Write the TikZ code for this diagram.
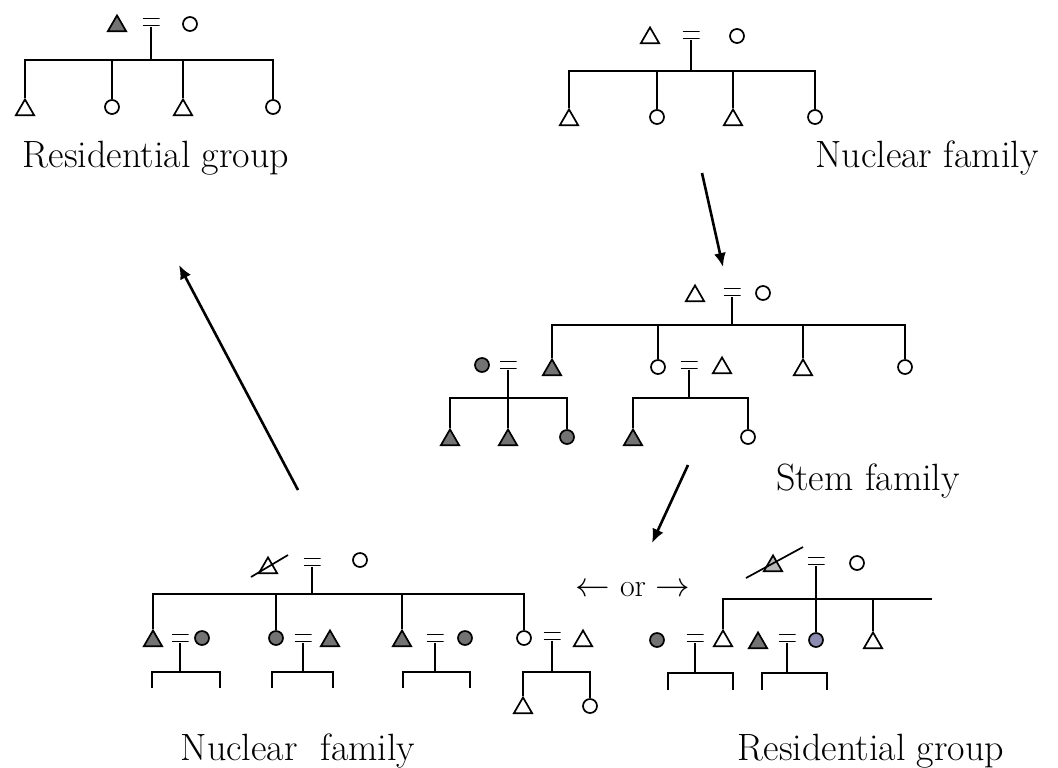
\documentclass[tikz,border=0pt]{standalone}
\usepackage{tikz}
\usetikzlibrary{arrows.meta,shapes.geometric}
\definecolor{shade}{gray}{0.45}
\definecolor{paleshade}{gray}{0.72}
\definecolor{blueshade}{RGB}{140,140,178}
\tikzset{
  male/.style={draw, regular polygon, regular polygon sides=3, minimum size=10.6pt, inner sep=0pt, line width=0.85pt},
  female/.style={draw, circle, minimum size=7pt, inner sep=0pt, line width=0.85pt},
  dark/.style={fill=shade},
  wed/.style={minimum width=8.5pt, minimum height=4.4pt, inner sep=0pt,
    path picture={\draw[line width=0.85pt] ([yshift=-0.5pt]path picture bounding box.north west) -- ([yshift=-0.5pt]path picture bounding box.north east)
      ([yshift=0.5pt]path picture bounding box.south west) -- ([yshift=0.5pt]path picture bounding box.south east);}},
  kin/.style={line width=1.1pt},
  caption/.style={font=\fontsize{19}{22}\selectfont, anchor=base},
  trend/.style={line width=1.3pt, -{Latex[length=7pt,width=6pt]}}
}

\begin{document}
\begin{tikzpicture}[x=0.5pt, y=-0.5pt]
  \useasboundingbox (0,0) rectangle (1058,767);

  \node[male, dark] (rgh) at (117,26) {};
  \node[wed] (rgm) at (151,22) {};
  \node[female] (rgw) at (190,24) {};
  \coordinate (rgk) at (151,60);
  \node[male] (rgc1) at (25,110) {};
  \node[female] (rgc2) at (112,107) {};
  \node[male] (rgc3) at (183,110) {};
  \node[female] (rgc4) at (273,107) {};
  \draw[kin] (rgm.south) -- (rgk);
  \draw[kin] (rgc1.north) |- (rgk) -| (rgc4.north);
  \draw[kin] (rgc2.north) -- (rgc2.north |- rgk);
  \draw[kin] (rgc3.north) -- (rgc3.north |- rgk);
  \node[caption] (rglab) at (156,167) {Residential group};

  \node[male] (nfh) at (650,38) {};
  \node[wed] (nfm) at (691,35) {};
  \node[female] (nfw) at (737,36) {};
  \coordinate (nfk) at (691,71);
  \node[male] (nfc1) at (569,120) {};
  \node[female] (nfc2) at (657,117) {};
  \node[male] (nfc3) at (733,120) {};
  \node[female] (nfc4) at (815,117) {};
  \draw[kin] (nfm.south) -- (nfk);
  \draw[kin] (nfc1.north) |- (nfk) -| (nfc4.north);
  \draw[kin] (nfc2.north) -- (nfc2.north |- nfk);
  \draw[kin] (nfc3.north) -- (nfc3.north |- nfk);
  \node[caption] (nflab) at (927,167) {Nuclear family};

  \coordinate (nfa) at (702,173);
  \coordinate (sfa) at (723,267);
  \draw[trend] (nfa) -- (sfa);

  \node[male] (sfh) at (695,296) {};
  \node[wed] (sfm) at (732,292) {};
  \node[female] (sfw) at (763,293) {};
  \coordinate (sfk) at (732,325);
  \node[male, dark] (sfc1) at (552,370) {};
  \node[female] (sfc2) at (658,367) {};
  \node[male] (sfc3) at (803,370) {};
  \node[female] (sfc4) at (905,367) {};
  \draw[kin] (sfm.south) -- (sfk);
  \draw[kin] (sfc1.north) |- (sfk) -| (sfc4.north);
  \draw[kin] (sfc2.north) -- (sfc2.north |- sfk);
  \draw[kin] (sfc3.north) -- (sfc3.north |- sfk);

  \node[female, dark] (sfaw) at (482,365) {};
  \node[wed] (sfam) at (508,365) {};
  \coordinate (sfak) at (508,398);
  \node[male, dark] (sfa1) at (450,440) {};
  \node[male, dark] (sfa2) at (508,440) {};
  \node[female, dark] (sfa3) at (567,437) {};
  \draw[kin] (sfam.south) -- (sfa2.north);
  \draw[kin] (sfa1.north) |- (sfak) -| (sfa3.north);

  \node[wed] (sfbm) at (689,365) {};
  \node[male] (sfbh) at (722,368) {};
  \coordinate (sfbk) at (689,398);
  \node[male, dark] (sfb1) at (633,440) {};
  \node[female] (sfb2) at (748,437) {};
  \draw[kin] (sfbm.south) -- (sfbk);
  \draw[kin] (sfb1.north) |- (sfbk) -| (sfb2.north);
  \node[caption] (sflab) at (868,490) {Stem family};

  \coordinate (sfd) at (688,465);
  \coordinate (bra) at (652,543);
  \draw[trend] (sfd) -- (bra);
  \coordinate (bna) at (298,490);
  \coordinate (rga) at (179,265);
  \draw[trend] (bna) -- (rga);

  \node[male] (bnh) at (268,568) {};
  \draw[line width=0.85pt] ([shift={(-17,9)}]bnh.center) -- ([shift={(20,-13)}]bnh.center);
  \node[wed] (bnm) at (312,562) {};
  \node[female] (bnw) at (360,560) {};
  \coordinate (bnk) at (312,594);
  \node[male, dark] (bn1) at (153,641) {};
  \node[wed] (bn1m) at (180,638) {};
  \node[female, dark] (bn1w) at (202,638) {};
  \node[female, dark] (bn2) at (276,638) {};
  \node[wed] (bn2m) at (303,638) {};
  \node[male, dark] (bn2h) at (330,641) {};
  \node[male, dark] (bn3) at (402,641) {};
  \node[wed] (bn3m) at (435,638) {};
  \node[female, dark] (bn3w) at (465,638) {};
  \node[female] (bn4) at (524,638) {};
  \node[wed] (bn4m) at (552,636) {};
  \node[male] (bn4h) at (583,641) {};
  \draw[kin] (bnm.south) -- (bnk);
  \draw[kin] (bn1.north) |- (bnk) -| (bn4.north);
  \draw[kin] (bn2.north) -- (bn2.north |- bnk);
  \draw[kin] (bn3.north) -- (bn3.north |- bnk);

  \coordinate (bn1k) at (180,672);
  \coordinate (bn1l) at (152,688);
  \coordinate (bn1r) at (220,688);
  \draw[kin] (bn1m.south) -- (bn1k);
  \draw[kin] (bn1l) |- (bn1k) -| (bn1r);
  \coordinate (bn2k) at (303,672);
  \coordinate (bn2l) at (272,688);
  \coordinate (bn2r) at (333,688);
  \draw[kin] (bn2m.south) -- (bn2k);
  \draw[kin] (bn2l) |- (bn2k) -| (bn2r);
  \coordinate (bn3k) at (435,672);
  \coordinate (bn3l) at (403,688);
  \coordinate (bn3r) at (470,688);
  \draw[kin] (bn3m.south) -- (bn3k);
  \draw[kin] (bn3l) |- (bn3k) -| (bn3r);
  \coordinate (bn4k) at (552,672);
  \node[male] (bn4a) at (523,708) {};
  \node[female] (bn4b) at (590,706) {};
  \draw[kin] (bn4m.south) -- (bn4k);
  \draw[kin] (bn4a.north) |- (bn4k) -| (bn4b.north);
  \node[caption] (bnlab) at (298,760) {Nuclear~~family};

  \node[font=\fontsize{16}{18}\selectfont] (orlab) at (633,590) {$\leftarrow$ or $\rightarrow$};

  \node[male, fill=paleshade] (brh) at (773,566) {};
  \draw[line width=0.85pt] ([shift={(-27,12)}]brh.center) -- ([shift={(30,-19)}]brh.center);
  \node[wed] (brm) at (816,561) {};
  \node[female] (brw) at (857,563) {};
  \coordinate (brk) at (816,599);
  \coordinate (brend) at (932,599);
  \node[male] (brc1) at (723,641) {};
  \node[female, fill=blueshade] (brc2) at (816,640) {};
  \node[male] (brc3) at (873,643) {};
  \draw[kin] (brm.south) -- (brc2.north);
  \draw[kin] (brc1.north) |- (brend);
  \draw[kin] (brc3.north) -- (brc3.north |- brk);

  \node[female, dark] (brc1w) at (657,640) {};
  \node[wed] (brc1m) at (695,638) {};
  \coordinate (brc1k) at (695,673);
  \coordinate (brc1l) at (668,690);
  \coordinate (brc1r) at (733,690);
  \draw[kin] (brc1m.south) -- (brc1k);
  \draw[kin] (brc1l) |- (brc1k) -| (brc1r);
  \node[male, dark] (brc2h) at (758,643) {};
  \node[wed] (brc2m) at (787,638) {};
  \coordinate (brc2k) at (787,673);
  \coordinate (brc2l) at (762,690);
  \coordinate (brc2r) at (827,690);
  \draw[kin] (brc2m.south) -- (brc2k);
  \draw[kin] (brc2l) |- (brc2k) -| (brc2r);
  \node[caption] (brlab) at (871,760) {Residential group};

\end{tikzpicture}
\end{document}
